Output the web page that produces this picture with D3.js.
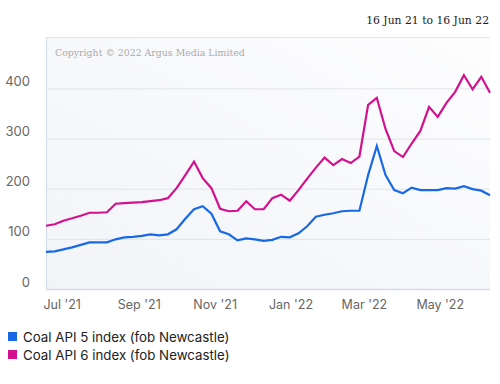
<!DOCTYPE html>
<html>
<head>
<meta charset="utf-8">
<script src="https://cdn.jsdelivr.net/npm/d3@7"></script>
<style>
  body { margin: 0; background: #fff; }
  svg { display: block; }
</style>
</head>
<body>
<script>
// weekly assessment dates (Fridays)
var dates = [
  "2021-06-18","2021-06-25","2021-07-02","2021-07-09","2021-07-16","2021-07-23","2021-07-30",
  "2021-08-06","2021-08-13","2021-08-20","2021-08-27","2021-09-03","2021-09-10","2021-09-17",
  "2021-09-24","2021-10-01","2021-10-08","2021-10-15","2021-10-22","2021-10-29","2021-11-05",
  "2021-11-12","2021-11-19","2021-11-26","2021-12-03","2021-12-10","2021-12-17","2021-12-24",
  "2021-12-31","2022-01-07","2022-01-14","2022-01-21","2022-01-28","2022-02-04","2022-02-11",
  "2022-02-18","2022-02-25","2022-03-04","2022-03-11","2022-03-18","2022-03-25","2022-04-01",
  "2022-04-08","2022-04-15","2022-04-22","2022-04-29","2022-05-06","2022-05-13","2022-05-20",
  "2022-05-27","2022-06-03","2022-06-10"
];
var api5 = [75,76,80,84,89,94,94,94,100,104,105,107,110,108,110,120,141,160,166,151,116,
  110,98,102,100,97,99,105,104,112,126,145,149,152,156,157,157,228,286,228,198,192,
  203,198,198,198,202,201,206,200,197,188];
var api6 = [127,130,137,142,147,153,153,154,171,172,173,174,176,178,182,202,228,255,222,202,161,
  156,157,176,160,160,182,189,177,198,221,243,263,248,260,252,265,368,382,320,276,264,
  291,316,364,344,372,394,427,399,424,392];
var seriesNames = ["Coal API 5 index (fob Newcastle)", "Coal API 6 index (fob Newcastle)"];
var seriesColors = ["#1769e6", "#d3118f"];
var yTicks = [0, 100, 200, 300, 400];
var xTickDates = ["2021-07-01","2021-09-01","2021-11-01","2022-01-01","2022-03-01","2022-05-01"];
var rangeLabel = "16 Jun 21 to 16 Jun 22";
var copyright = "Copyright \u00a9 2022 Argus Media Limited";

var width = 500, height = 384;
// plot box
var pL = 46, pR = 490, pT = 37, pB = 289.5;

var parse = d3.timeParse("%Y-%m-%d");
var dd = dates.map(parse);

var svg = d3.select("body").append("svg")
    .attr("width", width)
    .attr("height", height);

var grad = svg.append("defs").append("linearGradient")
    .attr("id", "bg").attr("x1", "0%").attr("y1", "100%").attr("x2", "100%").attr("y2", "0%");
grad.append("stop").attr("offset", "0%").attr("stop-color", "#f2f4f8");
grad.append("stop").attr("offset", "100%").attr("stop-color", "#fdfdfe");

var x = d3.scaleTime().domain(d3.extent(dd)).range([pL, pR]);
var y = d3.scaleLinear().domain([0, 500]).range([pB, pB - 500 * 0.5017]);

svg.append("rect")
    .attr("x", pL).attr("y", pT)
    .attr("width", pR - pL).attr("height", pB - pT)
    .attr("fill", "url(#bg)");

// grid
svg.append("g").selectAll("line")
  .data(yTicks.slice(1))
  .enter().append("line")
    .attr("x1", pL).attr("x2", pR)
    .attr("y1", d => y(d)).attr("y2", d => y(d))
    .attr("stroke", "#e2e3e6").attr("stroke-width", 1);

// borders
svg.append("line").attr("x1", pL).attr("x2", pR).attr("y1", pT + 0.5).attr("y2", pT + 0.5)
    .attr("stroke", "#e3e5ea");
svg.append("line").attr("x1", pL + 0.5).attr("x2", pL + 0.5).attr("y1", pT).attr("y2", pB)
    .attr("stroke", "#d3dbec");
svg.append("line").attr("x1", pL).attr("x2", pR).attr("y1", pB).attr("y2", pB)
    .attr("stroke", "#d3dbec").attr("stroke-width", 1.5);

// y labels (sit above grid line)
svg.append("g").selectAll("text")
  .data(yTicks)
  .enter().append("text")
    .attr("x", 30)
    .attr("y", d => y(d) - 3)
    .attr("text-anchor", "end")
    .attr("font-family", "Inter, 'Noto Sans', sans-serif")
    .attr("font-size", 13)
    .attr("fill", "#666")
    .text(d => d);

// x labels
var fmt = d3.timeFormat("%b '%y");
svg.append("g").selectAll("text")
  .data(xTickDates.map(parse))
  .enter().append("text")
    .attr("x", d => x(d))
    .attr("y", 309)
    .attr("text-anchor", "middle")
    .attr("font-family", "Inter, 'Noto Sans', sans-serif")
    .attr("font-size", 12.5)
    .attr("fill", "#666")
    .text(d => fmt(d));

svg.append("text")
    .attr("x", 55).attr("y", 55.5)
    .attr("font-family", "'DejaVu Serif', serif")
    .attr("font-size", 9.4)
    .attr("fill", "#aaa")
    .text(copyright);

svg.append("text")
    .attr("x", 489).attr("y", 24)
    .attr("text-anchor", "end")
    .attr("font-family", "'DejaVu Serif', serif")
    .attr("font-size", 10.8)
    .attr("fill", "#222")
    .text(rangeLabel);

var line = d3.line()
    .x((d, i) => x(dd[i]))
    .y(d => y(d));

[api5, api6].forEach((s, i) => {
  svg.append("path")
      .attr("d", line(s))
      .attr("fill", "none")
      .attr("stroke", seriesColors[i])
      .attr("stroke-width", 2.2)
      .attr("stroke-linejoin", "miter");
});

// legend
var lg = svg.append("g").selectAll("g")
  .data(seriesNames)
  .enter().append("g")
    .attr("transform", (d, i) => "translate(8," + (332 + i * 18) + ")");
lg.append("rect")
    .attr("width", 9).attr("height", 9)
    .attr("fill", (d, i) => seriesColors[i]);
lg.append("text")
    .attr("x", 15).attr("y", 9.5)
    .attr("font-family", "Inter, 'Noto Sans', sans-serif")
    .attr("font-size", 13.3)
    .attr("fill", "#222")
    .text(d => d);
</script>
</body>
</html>
